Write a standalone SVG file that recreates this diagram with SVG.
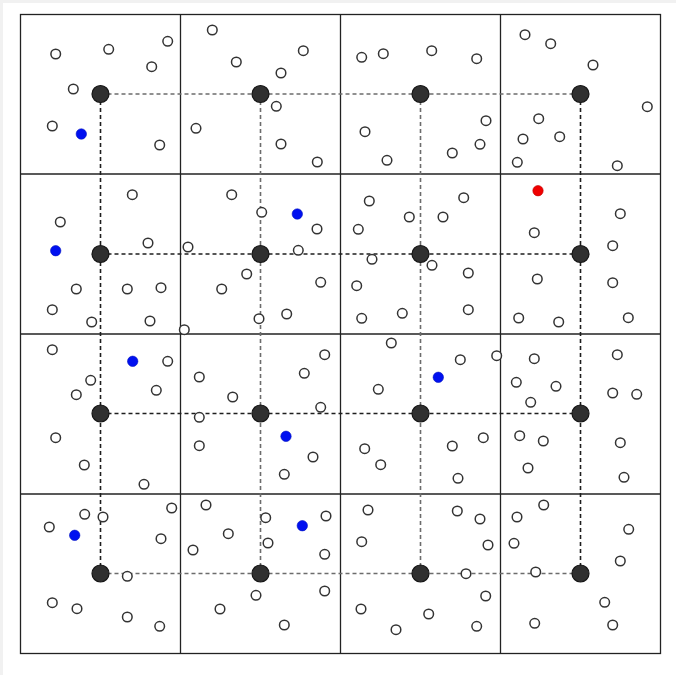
<svg xmlns="http://www.w3.org/2000/svg" width="676" height="675" viewBox="0 0 676 675">
<style>
.grid{stroke:#222;stroke-width:1.3;fill:none}
.dk{stroke:#1e1e1e;stroke-width:1.6;stroke-dasharray:4 3;fill:none}
.gy{stroke:#6c6c6c;stroke-width:1.6;stroke-dasharray:4 3;fill:none}
.hub{fill:#303030;stroke:#151515;stroke-width:1.2}
.p{fill:#fff;stroke:#333;stroke-width:1.5}
.b{fill:#0010f0;stroke:#0010c0;stroke-width:0.6}
.r{fill:#f00000;stroke:#c00000;stroke-width:0.6}
</style>
<rect x="0" y="0" width="676" height="675" fill="#ffffff"/>
<rect x="0" y="0" width="676" height="3" fill="#f1f1f1"/>
<rect x="0" y="0" width="3" height="675" fill="#f1f1f1"/>
<g id="grid" class="grid">
<rect x="20.5" y="14.5" width="640" height="639"/>
<line x1="180.5" y1="14.5" x2="180.5" y2="653.5"/>
<line x1="340.5" y1="14.5" x2="340.5" y2="653.5"/>
<line x1="500.5" y1="14.5" x2="500.5" y2="653.5"/>
<line x1="20.5" y1="174" x2="660.5" y2="174"/>
<line x1="20.5" y1="334" x2="660.5" y2="334"/>
<line x1="20.5" y1="494" x2="660.5" y2="494"/>
</g>
<g id="connectors">
<line class="gy" x1="100.5" y1="94" x2="580.5" y2="94"/>
<line class="dk" x1="100.5" y1="254" x2="580.5" y2="254"/>
<line class="dk" x1="100.5" y1="413.5" x2="580.5" y2="413.5"/>
<line class="gy" x1="100.5" y1="573.5" x2="580.5" y2="573.5"/>
<line class="dk" x1="100.5" y1="94" x2="100.5" y2="573.5"/>
<line class="gy" x1="260.5" y1="94" x2="260.5" y2="573.5"/>
<line class="gy" x1="420.5" y1="94" x2="420.5" y2="573.5"/>
<line class="dk" x1="580.5" y1="94" x2="580.5" y2="573.5"/>
</g>
<g id="points">
<circle class="p" cx="55.7" cy="54" r="4.8"/><circle class="p" cx="108.7" cy="49.3" r="4.8"/><circle class="p" cx="167.7" cy="41.3" r="4.8"/><circle class="p" cx="151.7" cy="66.7" r="4.8"/><circle class="p" cx="73.3" cy="89" r="4.8"/><circle class="p" cx="52.3" cy="126" r="4.8"/><circle class="b" cx="81.3" cy="134" r="5.2"/><circle class="p" cx="159.7" cy="145" r="4.8"/>
<circle class="p" cx="212.3" cy="30" r="4.8"/><circle class="p" cx="236.3" cy="62" r="4.8"/><circle class="p" cx="303.3" cy="50.7" r="4.8"/><circle class="p" cx="281" cy="73" r="4.8"/><circle class="p" cx="276.3" cy="106.3" r="4.8"/><circle class="p" cx="196" cy="128.3" r="4.8"/><circle class="p" cx="281" cy="144" r="4.8"/><circle class="p" cx="317.3" cy="162" r="4.8"/>
<circle class="p" cx="361.7" cy="57.3" r="4.8"/><circle class="p" cx="383.3" cy="53.7" r="4.8"/><circle class="p" cx="431.7" cy="50.7" r="4.8"/><circle class="p" cx="476.7" cy="58.7" r="4.8"/><circle class="p" cx="365" cy="131.7" r="4.8"/><circle class="p" cx="387" cy="160.3" r="4.8"/><circle class="p" cx="486" cy="120.7" r="4.8"/><circle class="p" cx="480" cy="144.3" r="4.8"/><circle class="p" cx="452.3" cy="153" r="4.8"/>
<circle class="p" cx="525" cy="34.7" r="4.8"/><circle class="p" cx="550.7" cy="43.7" r="4.8"/><circle class="p" cx="593" cy="65" r="4.8"/><circle class="p" cx="647.3" cy="106.7" r="4.8"/><circle class="p" cx="538.7" cy="118.7" r="4.8"/><circle class="p" cx="523" cy="139" r="4.8"/><circle class="p" cx="559.7" cy="136.7" r="4.8"/><circle class="p" cx="517.3" cy="162.3" r="4.8"/><circle class="p" cx="617.3" cy="165.7" r="4.8"/>
<circle class="p" cx="132.3" cy="194.7" r="4.8"/><circle class="p" cx="60.3" cy="222" r="4.8"/><circle class="b" cx="55.7" cy="250.7" r="5.2"/><circle class="p" cx="148" cy="243" r="4.8"/><circle class="p" cx="76.3" cy="289" r="4.8"/><circle class="p" cx="127.3" cy="289" r="4.8"/><circle class="p" cx="161" cy="287.7" r="4.8"/><circle class="p" cx="52.3" cy="309.7" r="4.8"/><circle class="p" cx="91.7" cy="322" r="4.8"/><circle class="p" cx="150" cy="321" r="4.8"/><circle class="p" cx="184.3" cy="329.7" r="4.8"/>
<circle class="p" cx="188" cy="247" r="4.8"/><circle class="p" cx="231.7" cy="194.7" r="4.8"/><circle class="p" cx="261.7" cy="212.3" r="4.8"/><circle class="b" cx="297.3" cy="214" r="5.2"/><circle class="p" cx="317" cy="229" r="4.8"/><circle class="p" cx="298.3" cy="250.3" r="4.8"/><circle class="p" cx="246.7" cy="274" r="4.8"/><circle class="p" cx="320.7" cy="282.3" r="4.8"/><circle class="p" cx="221.7" cy="289" r="4.8"/><circle class="p" cx="286.7" cy="314" r="4.8"/><circle class="p" cx="259" cy="318.7" r="4.8"/>
<circle class="p" cx="369.3" cy="201" r="4.8"/><circle class="p" cx="463.7" cy="197.7" r="4.8"/><circle class="p" cx="409.3" cy="217" r="4.8"/><circle class="p" cx="443" cy="217" r="4.8"/><circle class="p" cx="358.3" cy="229.3" r="4.8"/><circle class="p" cx="372" cy="259.3" r="4.8"/><circle class="p" cx="432" cy="265.3" r="4.8"/><circle class="p" cx="468.3" cy="273" r="4.8"/><circle class="p" cx="356.7" cy="285.7" r="4.8"/><circle class="p" cx="361.7" cy="318.3" r="4.8"/><circle class="p" cx="402.3" cy="313.3" r="4.8"/><circle class="p" cx="468.3" cy="309.7" r="4.8"/>
<circle class="r" cx="538" cy="190.7" r="5.2"/><circle class="p" cx="620.3" cy="213.7" r="4.8"/><circle class="p" cx="534.3" cy="232.7" r="4.8"/><circle class="p" cx="612.7" cy="245.7" r="4.8"/><circle class="p" cx="537.3" cy="279" r="4.8"/><circle class="p" cx="612.7" cy="282.7" r="4.8"/><circle class="p" cx="518.7" cy="318" r="4.8"/><circle class="p" cx="558.7" cy="322" r="4.8"/><circle class="p" cx="628.3" cy="317.7" r="4.8"/>
<circle class="p" cx="52.3" cy="349.7" r="4.8"/><circle class="b" cx="132.7" cy="361.3" r="5.2"/><circle class="p" cx="167.7" cy="361.3" r="4.8"/><circle class="p" cx="90.7" cy="380.3" r="4.8"/><circle class="p" cx="76.3" cy="394.7" r="4.8"/><circle class="p" cx="156.3" cy="390.3" r="4.8"/><circle class="p" cx="55.7" cy="437.7" r="4.8"/><circle class="p" cx="84.3" cy="465" r="4.8"/><circle class="p" cx="144" cy="484.3" r="4.8"/>
<circle class="p" cx="199.3" cy="377" r="4.8"/><circle class="p" cx="232.7" cy="397" r="4.8"/><circle class="p" cx="199.3" cy="417.3" r="4.8"/><circle class="p" cx="199.3" cy="445.7" r="4.8"/><circle class="p" cx="324.7" cy="354.7" r="4.8"/><circle class="p" cx="304.3" cy="373.3" r="4.8"/><circle class="p" cx="320.7" cy="407.3" r="4.8"/><circle class="b" cx="286" cy="436.3" r="5.2"/><circle class="p" cx="313" cy="457" r="4.8"/><circle class="p" cx="284.3" cy="474.3" r="4.8"/>
<circle class="p" cx="391.3" cy="343" r="4.8"/><circle class="p" cx="460.3" cy="359.7" r="4.8"/><circle class="p" cx="496.7" cy="355.7" r="4.8"/><circle class="b" cx="438.3" cy="377.3" r="5.2"/><circle class="p" cx="378.3" cy="389.3" r="4.8"/><circle class="p" cx="364.7" cy="448.7" r="4.8"/><circle class="p" cx="380.7" cy="464.7" r="4.8"/><circle class="p" cx="452.3" cy="446" r="4.8"/><circle class="p" cx="483.3" cy="437.7" r="4.8"/><circle class="p" cx="458" cy="478.3" r="4.8"/>
<circle class="p" cx="534.3" cy="358.7" r="4.8"/><circle class="p" cx="516.3" cy="382.3" r="4.8"/><circle class="p" cx="556" cy="386.3" r="4.8"/><circle class="p" cx="530.7" cy="402.3" r="4.8"/><circle class="p" cx="617.3" cy="354.7" r="4.8"/><circle class="p" cx="612.7" cy="393" r="4.8"/><circle class="p" cx="636.7" cy="394.3" r="4.8"/><circle class="p" cx="519.7" cy="435.7" r="4.8"/><circle class="p" cx="543.3" cy="441" r="4.8"/><circle class="p" cx="620.3" cy="442.7" r="4.8"/><circle class="p" cx="528" cy="468" r="4.8"/><circle class="p" cx="624" cy="477.3" r="4.8"/>
<circle class="p" cx="49.3" cy="527" r="4.8"/><circle class="p" cx="84.7" cy="514.3" r="4.8"/><circle class="p" cx="103" cy="517" r="4.8"/><circle class="b" cx="74.7" cy="535.3" r="5.2"/><circle class="p" cx="171.7" cy="508" r="4.8"/><circle class="p" cx="161" cy="538.7" r="4.8"/><circle class="p" cx="127.3" cy="576.3" r="4.8"/><circle class="p" cx="52.3" cy="602.7" r="4.8"/><circle class="p" cx="77" cy="608.7" r="4.8"/><circle class="p" cx="127.3" cy="617" r="4.8"/><circle class="p" cx="159.7" cy="626.3" r="4.8"/>
<circle class="p" cx="206" cy="505" r="4.8"/><circle class="p" cx="228.3" cy="533.7" r="4.8"/><circle class="p" cx="193" cy="550" r="4.8"/><circle class="p" cx="265.7" cy="517.7" r="4.8"/><circle class="b" cx="302.3" cy="525.7" r="5.2"/><circle class="p" cx="326" cy="516" r="4.8"/><circle class="p" cx="268" cy="543" r="4.8"/><circle class="p" cx="324.7" cy="554.3" r="4.8"/><circle class="p" cx="256" cy="595.3" r="4.8"/><circle class="p" cx="324.7" cy="591" r="4.8"/><circle class="p" cx="220" cy="609" r="4.8"/><circle class="p" cx="284.3" cy="625" r="4.8"/>
<circle class="p" cx="368" cy="510" r="4.8"/><circle class="p" cx="361.7" cy="541.7" r="4.8"/><circle class="p" cx="457.3" cy="511" r="4.8"/><circle class="p" cx="480" cy="519" r="4.8"/><circle class="p" cx="488" cy="545" r="4.8"/><circle class="p" cx="466" cy="573.7" r="4.8"/><circle class="p" cx="485.7" cy="596" r="4.8"/><circle class="p" cx="361" cy="609" r="4.8"/><circle class="p" cx="396" cy="629.7" r="4.8"/><circle class="p" cx="428.7" cy="614" r="4.8"/><circle class="p" cx="476.7" cy="626.3" r="4.8"/>
<circle class="p" cx="543.7" cy="505" r="4.8"/><circle class="p" cx="517" cy="517" r="4.8"/><circle class="p" cx="514" cy="543.3" r="4.8"/><circle class="p" cx="628.7" cy="529.3" r="4.8"/><circle class="p" cx="620.3" cy="561" r="4.8"/><circle class="p" cx="535.7" cy="572" r="4.8"/><circle class="p" cx="604.7" cy="602.3" r="4.8"/><circle class="p" cx="534.7" cy="623.3" r="4.8"/><circle class="p" cx="612.7" cy="625" r="4.8"/>
</g>
<g id="hub-1-1"><circle class="hub" cx="100.5" cy="94" r="8.5"/></g>
<g id="hub-1-2"><circle class="hub" cx="260.5" cy="94" r="8.5"/></g>
<g id="hub-1-3"><circle class="hub" cx="420.5" cy="94" r="8.5"/></g>
<g id="hub-1-4"><circle class="hub" cx="580.5" cy="94" r="8.5"/></g>
<g id="hub-2-1"><circle class="hub" cx="100.5" cy="254" r="8.5"/></g>
<g id="hub-2-2"><circle class="hub" cx="260.5" cy="254" r="8.5"/></g>
<g id="hub-2-3"><circle class="hub" cx="420.5" cy="254" r="8.5"/></g>
<g id="hub-2-4"><circle class="hub" cx="580.5" cy="254" r="8.5"/></g>
<g id="hub-3-1"><circle class="hub" cx="100.5" cy="413.5" r="8.5"/></g>
<g id="hub-3-2"><circle class="hub" cx="260.5" cy="413.5" r="8.5"/></g>
<g id="hub-3-3"><circle class="hub" cx="420.5" cy="413.5" r="8.5"/></g>
<g id="hub-3-4"><circle class="hub" cx="580.5" cy="413.5" r="8.5"/></g>
<g id="hub-4-1"><circle class="hub" cx="100.5" cy="573.5" r="8.5"/></g>
<g id="hub-4-2"><circle class="hub" cx="260.5" cy="573.5" r="8.5"/></g>
<g id="hub-4-3"><circle class="hub" cx="420.5" cy="573.5" r="8.5"/></g>
<g id="hub-4-4"><circle class="hub" cx="580.5" cy="573.5" r="8.5"/></g>
</svg>
